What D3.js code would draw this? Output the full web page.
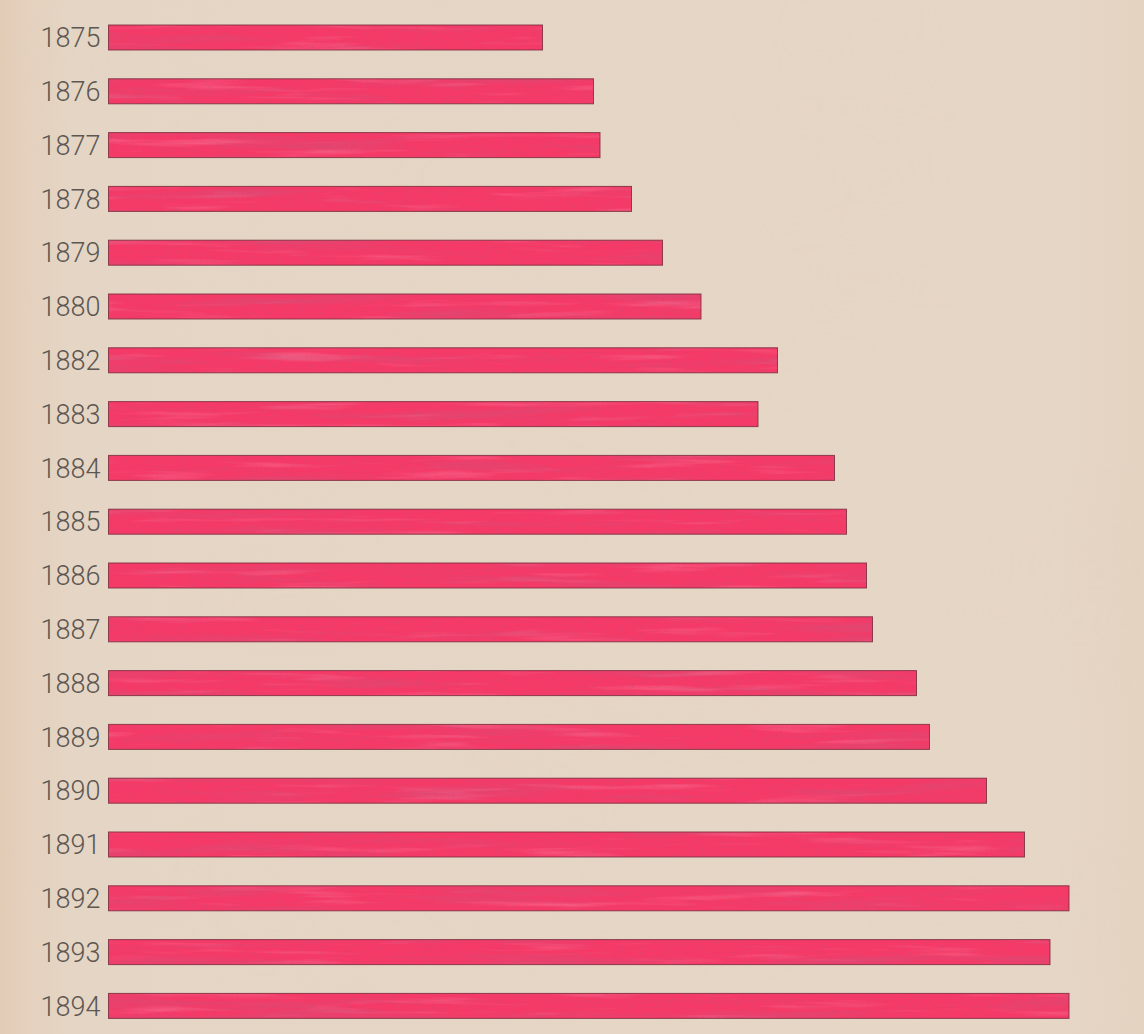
<!DOCTYPE html>
<html>
<head>
<meta charset="utf-8">
<script src="https://cdn.jsdelivr.net/npm/d3@7"></script>
<style>
html,body{margin:0;padding:0;background:#e5d5c4;}
svg{display:block;}
</style>
</head>
<body>
<svg id="chart" width="1144" height="1034"></svg>
<script>
// Data (bar lengths, arbitrary units)
const years = ["1875","1876","1877","1878","1879","1880","1882","1883","1884","1885","1886","1887","1888","1889","1890","1891","1892","1893","1894"];
const values = [434, 485, 491.5, 523, 554, 592.5, 669, 649.5, 726, 738, 758, 764, 808, 821, 878, 916, 960.5, 941.5, 960.5];

const W = 1144, H = 1034;
const svg = d3.select("#chart");
const defs = svg.append("defs");

// paper background
const bg = defs.append("linearGradient").attr("id","paperX").attr("x1","0").attr("x2","1").attr("y1","0").attr("y2","0");
bg.append("stop").attr("offset","0").attr("stop-color","#e2cbb5");
bg.append("stop").attr("offset","0.02").attr("stop-color","#e4d0bd");
bg.append("stop").attr("offset","0.06").attr("stop-color","#e5d5c4");
bg.append("stop").attr("offset","0.92").attr("stop-color","#e6d6c6");
bg.append("stop").attr("offset","1").attr("stop-color","#e4d3c1");

const paperNoise = defs.append("filter").attr("id","paperNoise").attr("x",0).attr("y",0).attr("width","100%").attr("height","100%");
paperNoise.append("feTurbulence").attr("type","fractalNoise").attr("baseFrequency","0.004 0.006").attr("numOctaves",3).attr("seed",4).attr("result","n");
paperNoise.append("feColorMatrix").attr("in","n").attr("type","matrix")
  .attr("values","0 0 0 0 0.75  0 0 0 0 0.62  0 0 0 0 0.5  1.2 0 0 0 -0.6").attr("result","c");
paperNoise.append("feComposite").attr("in","c").attr("in2","SourceGraphic").attr("operator","in");

svg.append("rect").attr("width",W).attr("height",H).attr("fill","url(#paperX)");
svg.append("rect").attr("width",W).attr("height",H).attr("fill","#000").attr("filter","url(#paperNoise)").attr("opacity",0.15);

// bar textures
function makeFilter(id, freq, oct, seed, color, a, b) {
  const f = defs.append("filter").attr("id", id).attr("x",0).attr("y",0).attr("width","100%").attr("height","100%");
  f.append("feTurbulence").attr("type","fractalNoise").attr("baseFrequency",freq).attr("numOctaves",oct).attr("seed",seed).attr("result","n");
  f.append("feColorMatrix").attr("in","n").attr("type","matrix")
    .attr("values", `0 0 0 0 ${color[0]}  0 0 0 0 ${color[1]}  0 0 0 0 ${color[2]}  ${a} 0 0 0 ${b}`).attr("result","c");
  f.append("feComposite").attr("in","c").attr("in2","SourceGraphic").attr("operator","in");
}
makeFilter("streakDark", "0.005 0.09", 3, 7, [0.55,0.1,0.22], 3.0, -1.5);
makeFilter("streakLight", "0.008 0.13", 3, 21, [1,0.45,0.58], 2.6, -1.45);
makeFilter("speckle", "0.8 0.8", 1, 3, [0.45,0.08,0.2], 5.0, -2.9);

// scales
const y = d3.scaleBand().domain(years).range([25, 1018.4]).paddingInner(0.5353).paddingOuter(0);
const x = d3.scaleLinear().domain([0, 1000]).range([108.5, 1108.5]);

const rows = years.map((yr, i) => ({year: yr, value: values[i]}));

const g = svg.append("g");
const bars = g.selectAll("g.bar").data(rows).join("g").attr("class","bar");

function barRect(sel) {
  return sel.append("rect")
    .attr("x", x(0)).attr("y", d => y(d.year))
    .attr("width", d => x(d.value) - x(0)).attr("height", y.bandwidth());
}
barRect(bars).attr("fill", "#f53a67");
barRect(bars).attr("fill", "#000").attr("filter","url(#streakLight)").attr("opacity",0.3);
barRect(bars).attr("fill", "#000").attr("filter","url(#streakDark)").attr("opacity",0.35);
barRect(bars).attr("fill", "#000").attr("filter","url(#speckle)").attr("opacity",0.4);
barRect(bars).attr("fill", "none").attr("stroke", "#7a2e3e").attr("stroke-width", 1).attr("stroke-opacity", 0.85);

// year axis (left)
const axis = d3.axisLeft(y).tickSize(0).tickPadding(0);
const ax = svg.append("g").attr("transform", `translate(${x(0) - 8},0)`).call(axis);
ax.select(".domain").remove();
ax.selectAll("text")
  .attr("font-family", "Roboto, 'Liberation Sans', sans-serif")
  .attr("font-weight", 300)
  .attr("font-size", 27)
  .attr("fill", "#5c5752")
  .attr("dy", "0.36em");
</script>
</body>
</html>
